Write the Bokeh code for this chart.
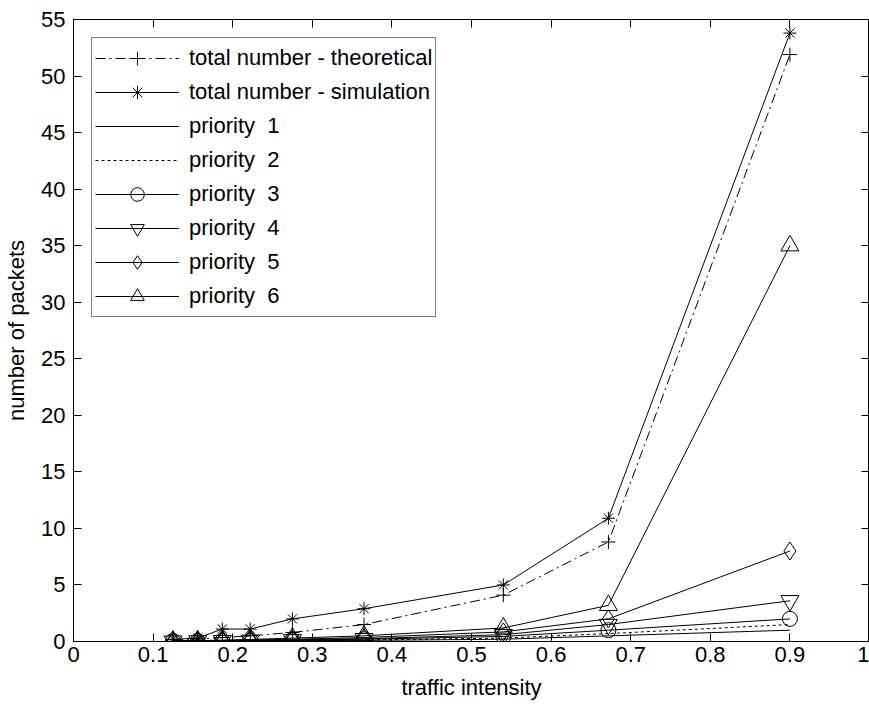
from bokeh.plotting import figure
from bokeh.models import Range1d, FixedTicker, LinearAxis, Legend, LegendItem
from bokeh.embed import file_html
from bokeh.resources import INLINE

# traffic intensity values at which the queue was evaluated
intensity = [0.125, 0.156, 0.187, 0.222, 0.275, 0.365, 0.54, 0.672, 0.9]

# mean number of packets in the system
total_theoretical = [0.15, 0.22, 0.35, 0.5, 0.8, 1.5, 4.1, 8.8, 51.9]
total_simulation = [0.2, 0.3, 1.1, 1.1, 2.0, 2.9, 5.0, 10.9, 53.8]
priority_1 = [0.02, 0.03, 0.04, 0.05, 0.07, 0.1, 0.2, 0.5, 1.0]
priority_2 = [0.02, 0.03, 0.05, 0.06, 0.09, 0.14, 0.3, 0.7, 1.5]
priority_3 = [0.03, 0.04, 0.06, 0.08, 0.12, 0.2, 0.45, 1.0, 2.0]
priority_4 = [0.03, 0.05, 0.07, 0.1, 0.15, 0.25, 0.6, 1.5, 3.6]
priority_5 = [0.04, 0.06, 0.09, 0.13, 0.2, 0.35, 0.85, 2.0, 8.0]
priority_6 = [0.05, 0.08, 0.12, 0.18, 0.3, 0.5, 1.2, 3.2, 35.0]

x_ticks = [i / 10 for i in range(11)]
x_tick_labels = ["0", "0.1", "0.2", "0.3", "0.4", "0.5", "0.6", "0.7", "0.8", "0.9", "1"]
y_ticks = list(range(0, 56, 5))

FONT = "Liberation Sans"

p = figure(width=869, height=707, output_backend="svg", toolbar_location=None,
           x_range=Range1d(0, 1), y_range=Range1d(0, 55),
           min_border_left=73, min_border_right=0, min_border_top=19,
           min_border_bottom=66)
p.xgrid.visible = False
p.ygrid.visible = False
p.outline_line_color = "black"
p.outline_line_width = 1
p.background_fill_color = "white"
p.border_fill_color = "white"

for ax in (p.xaxis[0], p.yaxis[0]):
    ax.major_tick_in = 8
    ax.major_tick_out = 0
    ax.minor_tick_line_color = None
    ax.axis_line_color = "black"
    ax.major_tick_line_color = "black"
    ax.major_label_text_font = FONT
    ax.major_label_text_font_size = "22px"
    ax.major_label_text_color = "black"
    ax.axis_label_text_font = FONT
    ax.axis_label_text_font_size = "22px"
    ax.axis_label_text_font_style = "normal"
    ax.axis_label_text_color = "black"

p.xaxis[0].ticker = FixedTicker(ticks=x_ticks)
p.xaxis[0].major_label_overrides = {t: lab for t, lab in zip(x_ticks, x_tick_labels)}
p.xaxis[0].axis_label = "traffic intensity"
p.xaxis[0].major_label_standoff = 5
p.xaxis[0].axis_label_standoff = 10
p.yaxis[0].ticker = FixedTicker(ticks=y_ticks)
p.yaxis[0].axis_label = "number of packets"
p.yaxis[0].major_label_standoff = 8
p.yaxis[0].axis_label_standoff = 9

# tick marks on the top and right edges of the box, without labels
for loc, ticks in (("above", x_ticks), ("right", y_ticks)):
    ax = LinearAxis(ticker=FixedTicker(ticks=ticks))
    ax.major_tick_in = 8
    ax.major_tick_out = 0
    ax.minor_tick_line_color = None
    ax.axis_line_color = None
    ax.major_label_text_color = None
    ax.major_label_text_font_size = "1px"
    ax.major_label_standoff = 0
    p.add_layout(ax, loc)

items = []

r1 = p.line(intensity, total_theoretical, line_color="black", line_width=1,
            line_dash="10 4 2 4")
m1 = p.scatter(intensity, total_theoretical, marker="cross", size=14,
               line_color="black", fill_color=None, line_width=1)
items.append(LegendItem(label="total number - theoretical", renderers=[r1, m1]))

r2 = p.line(intensity, total_simulation, line_color="black", line_width=1)
m2 = p.scatter(intensity, total_simulation, marker="asterisk", size=13,
               line_color="black", fill_color=None, line_width=1)
items.append(LegendItem(label="total number - simulation", renderers=[r2, m2]))

r3 = p.line(intensity, priority_1, line_color="black", line_width=1)
items.append(LegendItem(label="priority  1", renderers=[r3]))

r4 = p.line(intensity, priority_2, line_color="black", line_width=1, line_dash="3 3")
items.append(LegendItem(label="priority  2", renderers=[r4]))

for series, marker, size, label in (
        (priority_3, "circle", 15, "priority  3"),
        (priority_4, "inverted_triangle", 18, "priority  4"),
        (priority_5, "diamond", 18, "priority  5"),
        (priority_6, "triangle", 18, "priority  6")):
    r = p.line(intensity, series, line_color="black", line_width=1)
    m = p.scatter(intensity, series, marker=marker, size=size,
                  line_color="black", fill_color=None, line_width=1)
    items.append(LegendItem(label=label, renderers=[r, m]))

legend = Legend(items=items, location="top_left")
legend.margin = 18
legend.padding = 3
legend.spacing = 0
legend.glyph_width = 84
legend.glyph_height = 34
legend.label_height = 34
legend.label_standoff = 10
legend.label_text_font = FONT
legend.label_text_font_size = "22px"
legend.label_text_color = "black"
legend.border_line_color = "black"
legend.border_line_width = 1
legend.background_fill_color = "white"
legend.background_fill_alpha = 1
p.add_layout(legend, "center")

open("out.html", "w").write(file_html(p, INLINE))
